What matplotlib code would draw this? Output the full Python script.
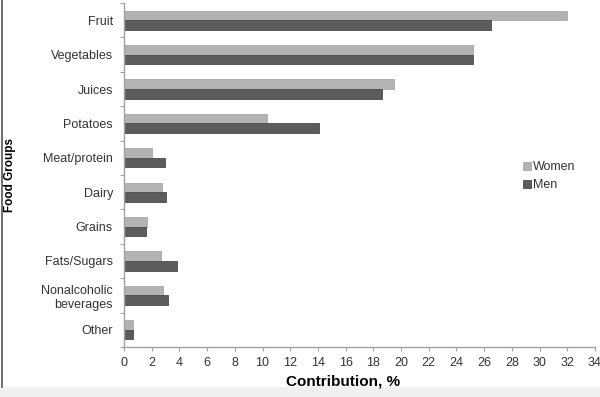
import matplotlib
matplotlib.use("Agg")
import matplotlib.pyplot as plt
import numpy as np

categories = ["Fruit", "Vegetables", "Juices", "Potatoes", "Meat/protein", "Dairy",
              "Grains", "Fats/Sugars", "Nonalcoholic\nbeverages", "Other"]
women = [32.0, 25.2, 19.5, 10.3, 2.05, 2.75, 1.65, 2.7, 2.85, 0.67]
men = [26.5, 25.2, 18.6, 14.05, 2.95, 3.0, 1.6, 3.85, 3.15, 0.65]
xticks = list(range(0, 35, 2))

plt.rcParams['font.family'] = ['Liberation Sans', 'DejaVu Sans']

fig = plt.figure(figsize=(6, 3.97), dpi=100)
ax = fig.add_axes([124/600, 1-347/397, (595-124)/600, 344/397])

y = np.arange(len(categories))
h = 0.28
ax.barh(y - h/2, women, height=h, color="#b3b3b3", edgecolor="#a8a8a8", linewidth=0.6, label="Women")
ax.barh(y + h/2, men, height=h, color="#5c5c5c", edgecolor="#4a4a4a", linewidth=0.6, label="Men")

ax.set_ylim(len(categories) - 0.5, -0.5)
ax.set_xlim(0, 34)
ax.set_xticks(xticks)
ax.set_xticklabels([str(t) for t in xticks], fontsize=9, color="#333333")
ax.set_yticks(y)
ax.set_yticklabels(categories, fontsize=9, color="#333333", multialignment="right")
ax.tick_params(axis="y", length=0, pad=8)
ax.set_yticks(np.arange(-0.5, len(categories) + 0.5, 1), minor=True)
ax.tick_params(axis="y", which="minor", length=3, color="#a0a0a0", width=0.8)
ax.tick_params(axis="x", length=3, color="#a0a0a0", width=0.8, pad=4)

for s in ["top", "right"]:
    ax.spines[s].set_visible(False)
for s in ["left", "bottom"]:
    ax.spines[s].set_color("#a0a0a0")
    ax.spines[s].set_linewidth(1.0)

fig.text(343/600, 1-381/397, "Contribution, %", fontsize=11, fontweight="bold",
         ha="center", va="center")
fig.text(10/600, 1-175/397, "Food Groups", rotation=90, fontsize=8.5, fontweight="bold",
         ha="center", va="center")

leg = ax.legend(loc="upper left", bbox_to_anchor=(517/600, 1-155/397), bbox_transform=fig.transFigure,
                frameon=False, fontsize=9, handlelength=0.6, handleheight=0.6,
                handletextpad=0.2, labelspacing=0.5, borderpad=0)
for t in leg.get_texts():
    t.set_color("#333333")

# left border line and bottom strip
fig.add_artist(plt.Line2D([1.5/600, 1.5/600], [10/397, 1], transform=fig.transFigure, color="#555555", linewidth=1.2))
fig.patches.append(matplotlib.patches.Rectangle((0, 0), 1, 10/397, transform=fig.transFigure,
                                                 color="#f0f0f0", zorder=0))

fig.savefig("out.png", dpi=100)
